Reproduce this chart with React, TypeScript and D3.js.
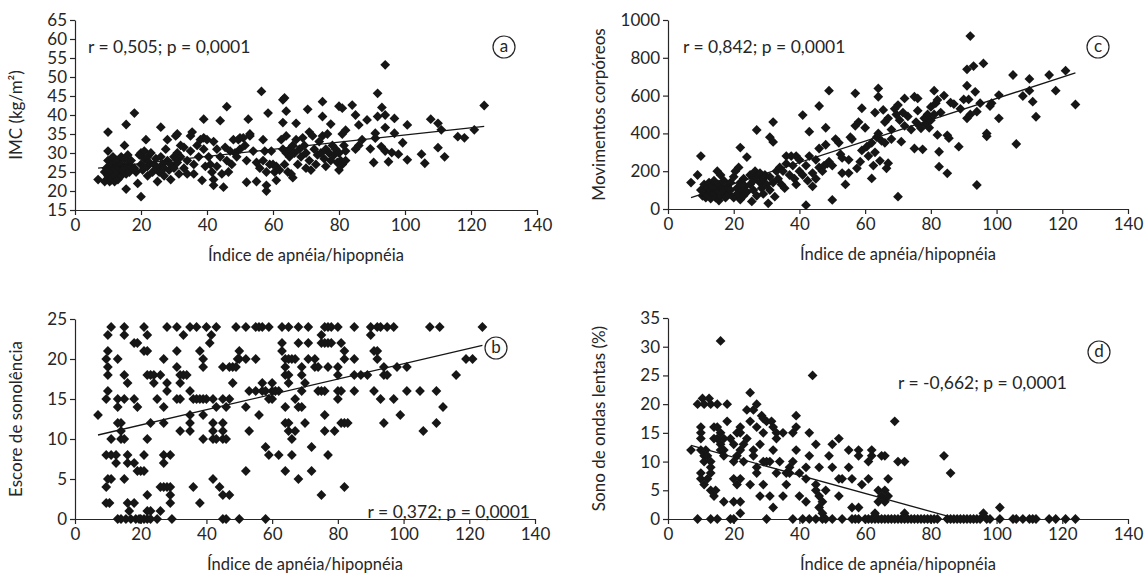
import React, { useRef, useEffect } from "react";
import * as d3 from "d3";

// Índice de apnéia/hipopnéia (x) vs. each outcome (y)
const imcPoints = [
  [7,23],[9,22.5],[9,25],[9.5,26],[10,30.5],[10,35.5],[10,28],[10,24],[10.5,22.5],[11,27],[11,25],[11,23],[11.5,29],[12,26],[12,24],[12,22.5],[12.5,27.5],[13,25],[13,23],[13,28],[13.5,26],[14,24],[14,29],[14,27],[14.5,25.5],[15,32],[15,28.5],[15,26],[15.5,37.5],[15.5,24.5],[15.5,20.5],[16,29.5],[16,27],[16.5,25],[17,26.5],[17,28],[18,40.5],[18,26],[18.5,25],[19,22],[19.5,29.5],[20,18.5],[20,30],[20,27],[20.5,25.5],[21,28.5],[21,30.5],[21.5,33.5],[22,24],[22,26.5],[22,29],[22.5,27.5],[23,30],[23.5,25],[24,27],[24.5,28.5],[25,26],[25,22.5],[25.5,25],[26,36.8],[26,29],[26.5,27],[27,24],[27,26],[27.5,31],[28,33.5],[28,28],[28.5,25.5],[29,27],[29,23],[30,29],[30,26],[30.5,34.5],[31,35],[31,30],[31,27.5],[31.5,24.5],[32,32],[32,29],[33,31.5],[33,26],[34,28],[34,24.5],[35,34.5],[35.5,35.5],[35,30.5],[36,27],[36,24.5],[37,32],[37.5,29],[38,33.5],[38.5,22.8],[39,38.9],[39,34],[39,31],[39.5,26.5],[40,33.5],[40.5,29],[41,27],[41.5,25],[42,33],[42,23],[42,21.5],[43,31],[43,26.5],[44,38.5],[44,29],[44.5,24.5],[45,21],[45.5,31.5],[46,42.2],[46,28],[46.5,25],[47,30.5],[47.5,27],[48,33.5],[48.5,30],[49,29],[49.5,33.5],[50,34],[50,31],[51,34],[51.5,32],[52,28],[52.5,38.9],[52,22.3],[53,34.5],[53,35],[54,30.5],[55,22.5],[55,27.5],[56,26],[56.5,46.2],[57,33.5],[57,28],[57.5,30.5],[58,25],[58,21.5],[58,20],[58.5,40.5],[59,27],[59.5,30.5],[60,27],[60.5,25],[61,22.8],[61,26.5],[62,25.5],[62.5,33.5],[63,44],[63,38],[63,31],[63.5,44.5],[63.5,27],[64,41],[64,34.5],[64,30],[64.5,25],[65,31],[65,29],[65.5,24.5],[66,23.5],[66,32],[66.5,30],[67,37.8],[67,33.5],[67.5,27],[68,31],[68.5,29],[69,34],[69.5,32],[70,30],[70,26],[70.5,41.5],[71,35.5],[71,28],[71.5,25.5],[72,34.5],[72.5,31],[73,27],[73.5,29.5],[74,33],[74.5,30],[75,43.5],[75,39.6],[75,34.5],[75.5,28.5],[76,31],[76,26.5],[76.5,35],[77,30],[77.5,37.6],[77.5,28],[78,32],[78.5,29.5],[79,31],[79.5,27.5],[80,42.3],[80,30],[80,25.5],[80.5,28],[81,41.8],[81,35],[81,27],[81.5,32],[82,36],[82,30.5],[82,28],[84,42.6],[85,40],[85,31],[86,37.4],[86,32],[87,33.5],[88.5,38.7],[89.5,31.1],[90.5,27.5],[91,35.2],[91,33.9],[91.7,45.7],[91.7,39.6],[92.8,31.7],[93,42],[94,53.2],[94,40],[94,36.7],[94,30.5],[95,27.7],[96,30.1],[96.8,39.1],[96.8,35.2],[98,29.7],[99.3,32.7],[100.7,37.4],[100.7,28.2],[105,29.7],[106,27.3],[107.8,38.9],[110,37.8],[110,31.4],[111,36.1],[112,29],[116,34.3],[118,34],[121,36.1],[124,42.5]
];

const movPoints = [
  [7,140],[9,180],[10,280],[10,100],[10.5,70],[11,130],[11,90],[11.5,60],[12,110],[12,75],[12.5,140],[13,95],[13,55],[13.5,120],[14,80],[14,150],[14.5,60],[15,200],[15,100],[15.5,130],[15.5,45],[16,180],[16,70],[16.5,110],[17,90],[17,150],[17.5,60],[18,120],[18.5,80],[19,140],[19,100],[20,170],[20,60],[20.5,200],[21,110],[21,80],[21.5,220],[22,325],[22,140],[22,50],[22.5,100],[23,160],[23,70],[23.5,120],[24,275],[24,90],[25,180],[25,130],[25.5,40],[26,150],[26,100],[26.5,200],[27,418],[27,170],[27,70],[28,140],[28,190],[28.5,110],[29,160],[29,80],[29.5,180],[30,130],[30.5,30],[31,380],[31,170],[31,100],[32,460],[32,355],[32,140],[32.5,65],[33,200],[33.5,160],[34,220],[34.5,130],[35,200],[35.5,110],[36,280],[36,240],[37,180],[37.5,280],[38,230],[38.5,160],[39,280],[39,130],[40,200],[40,260],[41,497],[41,180],[42,20],[42,230],[42.5,150],[43,409],[43,280],[44,120],[44,190],[45,260],[45,160],[46,545],[46,320],[46,220],[47,200],[47.5,230],[48,430],[48,340],[48.5,240],[49,626],[49,250],[50,48],[50,230],[51,370],[52,350],[52.5,290],[53,190],[53,270],[54,130],[55,190],[55,260],[55.5,380],[56,370],[57,612],[57,440],[57.5,215],[58,460],[58.5,250],[59,533],[59,310],[60,430],[60.5,330],[61,280],[62,162],[62,350],[62.5,230],[63,300],[63,510],[63.5,380],[64,638],[64,594],[64,400],[64.5,255],[65,360],[65.5,524],[66,460],[66,350],[66.5,215],[67,242],[67,480],[68,370],[68,420],[69,530],[69.5,500],[70,65],[70,550],[70.5,470],[71,356],[71.5,510],[72,585],[72,440],[73,490],[74,420],[75,594],[75,320],[75.5,460],[76,585],[76,520],[76.5,440],[77,427],[77.5,316],[78,480],[78.5,450],[79,500],[79.5,430],[80,540],[80,470],[81,626],[81,500],[81.5,560],[82,577],[82,392],[82.5,303],[82.5,224],[83,510],[84,600],[85,189],[85,390],[85.5,375],[86,563],[87,555],[88.5,330],[89,530],[90,580],[91,739],[91,652],[91,480],[91.5,580],[92,915],[92,500],[93,756],[93.5,620],[94,127],[94,515],[95,560],[96,770],[97,400],[97,385],[98,545],[98.5,560],[100.7,603],[100.7,480],[105,709],[106,344],[108,598],[110,688],[110,626],[111,568],[112,488],[116,709],[118,626],[121,732],[124,553]
];

const sonoPoints = [
  [7,13],[9.5,20],[9.5,15],[9.5,8],[9.5,4],[9.5,2],[10,23],[10,21],[10,19],[10,18],[10,16],[10,5],[10.5,2],[11,24],[11,10],[11,8],[11,5],[12.5,8],[12.5,7],[13,20],[13,15],[13,14],[13,12],[13,0],[14,12],[14,11],[14,10],[14,0],[15,24],[15,23],[15,18],[15,15],[15,10],[15,5],[15.5,0],[16,17],[16,8],[16,7],[16,2],[16.5,1],[17,0],[18,22],[18,15],[18,7],[18,2],[18.5,0],[19,22],[19,14],[19,6],[19.5,0],[20,0],[20,6],[21,24],[21,21],[21,8],[21,6],[21,0],[22,23],[22,21],[22,18],[22,10],[22,3],[22,1],[22,0],[23,12],[23,18],[23,1],[23,0],[24,17],[24,18],[25,15],[25,0],[26,18],[26,4],[26,1],[27,20],[27,14],[27,12],[27,8],[27,7],[27,4],[28,24],[28,17],[28,16],[28,4],[29,8],[29,4],[29,3],[29,2],[29.5,0],[31,24],[31,21],[31,19],[31,15],[32,18],[32,17],[32,15],[32,11],[33,23],[33,18],[34,18],[35,24],[35,13],[35,16],[35,12],[35,11],[36,4],[36,15],[37,24],[37,15],[38,21],[38,2],[38,15],[39,20],[39,19],[39,15],[39,13],[39,10],[40,24],[40,15],[41,22],[41.5,23],[42,15],[42,12],[42,11],[42,10],[42,5],[43,24],[43,14],[43,10],[44,4],[45,19],[45,15],[45,12],[45,11],[45,10],[45,3],[45,0],[46,14],[46,10],[46,0],[47,19],[47,15],[47,3],[48,17],[48,19],[49,24],[49,19],[49.5,20],[50,21],[50,20],[50,0],[52,24],[52,20],[52,14],[52,6],[53,16],[53,11],[55,24],[55,20],[55,16],[56,24],[56,13],[57,24],[57,17],[57,16],[58,9],[58,0],[58,16],[59,24],[59,15],[59,8],[60,17],[60,16],[60,15],[61,16],[62,8],[62,16],[63,22],[63,24],[63,21],[64,20],[64,19],[64,18],[64,12],[64,14],[64,6],[65,24],[65,20],[65,18],[65,17],[65,11],[65,12],[66,20],[66,10],[66,8],[67,20],[67,11],[67,15],[68,24],[68,22],[68,14],[68,5],[69,16],[69,14],[69,19],[69,18],[70,17],[70,12],[71,24],[71,22],[71,20],[72,9],[72,6],[73,20],[73,19],[74,16],[74,19],[75,3],[75,16],[75,23],[75,22],[76,24],[76,22],[76,16],[76,13],[76,11],[77,24],[77,22],[77,8],[77,19],[78,24],[78,22],[79,11],[80,24],[80,19],[80,18],[80,16],[80,15],[81,22],[81,12],[81,16],[82,21],[82,20],[82,12],[82,4],[83,12],[85,24],[85,20],[85,18],[85,16],[87,18],[89,18],[90,24],[90,23],[91,21],[91,16],[92,24],[92,21],[92,20],[93,24],[93,15],[94,19],[94,18],[94,12],[95,24],[95,18],[97,24],[97,15],[98,19],[99,13],[101,19],[101,16],[105,16],[106,11],[108,24],[110,16],[110,12],[111,24],[112,14],[116,18],[119,20],[121,20],[124,24]
];

const ondasPoints = [
  [7,12],[9,20],[9,0],[10,16],[10,15],[10,14],[10,12],[10,8],[10,7],[10.5,21],[11,20],[11,11],[11,10],[11,6],[11.5,12],[12,7],[12,11],[12.5,21],[13,20],[13,10],[13,9],[13,8],[13,5],[13,0],[14,16],[14,14],[14,4],[14.5,5],[15,20],[15,16],[15,14],[15,0],[16,31],[16,15],[16,13],[16,12],[17,14],[17,12],[17,11],[17,3],[18,20],[18,17],[19,14],[19,0],[20,13],[20,10],[20,7],[20,3],[20,0],[21,11],[21,6],[21,15],[22,16],[22,15],[22,12],[22,7],[22,3],[22,1],[23,13],[23,10],[24,14],[24,19],[25,22],[25,17],[25,6],[26,19],[26,12],[26,11],[27,20],[27,16],[27,9],[27,8],[28,13],[28,4],[28.5,18],[29,17.5],[29,15],[29,10],[29,6],[30,17],[30,10],[30,0],[31,10],[31,4],[31.5,17],[32,16],[32,12],[32,2],[33,15],[33,14],[33,8],[34,10],[35,15],[35,4],[36,8],[36,6],[37,9],[37,8],[38,10],[38,15],[38,0],[39,18],[39,16],[39,12],[40,8],[40,4],[41,0],[42,9],[42,7],[42,3],[43,15],[43,11],[43,0],[44,25],[45,13],[45,6],[45,5],[45,0],[46,9],[46,4],[46,2],[47,3],[47,1],[47,0],[48,5],[48,0],[49,11],[50,13],[50,9],[50,0],[52,14],[52,7],[52,4],[53,7],[53,0],[55,12],[55,9],[56,2],[56,7],[56,0],[57,0],[58,12],[58,11],[58,2],[58,0],[59,6],[60,0],[61,7],[61,10],[61,0],[62,11],[62,12],[62,0],[63,1],[63,0],[64,5],[64,3],[64,0],[65,11],[65,4],[65,0],[66,11],[66,5],[66,3],[66,0],[67,7],[67,4],[67,0],[68,0],[69,17],[69,0],[70,10],[70,0],[71,0],[72,10],[72,1],[72,0],[73,0],[74,0],[75,0],[76,0],[77,0],[78,0],[79,0],[80,0],[81,0],[82,0],[84,11],[85,0],[86,8],[86,0],[87,0],[88,0],[89,0],[90,0],[91,0],[92,0],[93,0],[94,0],[95,0],[96,1],[97,0],[98,0],[101,2],[101,0],[105,0],[106,0],[108,0],[110,0],[111,0],[112,0],[116,0],[118,0],[121,0],[124,0]
];

// fitted regression lines (endpoints)
const imcFit = [[7,26],[124,37]];
const movFit = [[7,60],[124,720]];
const sonoFit = [[7,10.5],[124,21.7]];
const ondasFit = [[7,12.8],[87,0.2]];

const xTicks = [0, 20, 40, 60, 80, 100, 120, 140];
const imcTicks = [15, 20, 25, 30, 35, 40, 45, 50, 55, 60, 65];
const movTicks = [0, 200, 400, 600, 800, 1000];
const sonoTicks = [0, 5, 10, 15, 20, 25];
const ondasTicks = [0, 5, 10, 15, 20, 25, 30, 35];

const xTitle = "Índice de apnéia/hipopnéia";
const FONT = "Lato, 'Open Sans', sans-serif";
const INK = "#262626";

const panels = [
  { key: "a", pts: imcPoints, fit: imcFit, yTicks: imcTicks, yTitle: "IMC (kg/m²)", stat: "r = 0,505; p = 0,0001",
    box: [75, 537, 20, 210], statPos: [88, 53, "start"], letterPos: [504, 47], titleX: 18 },
  { key: "c", pts: movPoints, fit: movFit, yTicks: movTicks, yTitle: "Movimentos corpóreos", stat: "r = 0,842; p = 0,0001",
    box: [668, 1128, 20, 209], statPos: [683, 53, "start"], letterPos: [1098, 47], titleX: 601 },
  { key: "b", pts: sonoPoints, fit: sonoFit, yTicks: sonoTicks, yTitle: "Escore de sonolência", stat: "r = 0,372; p = 0,0001",
    box: [75, 535, 319, 519], statPos: [530, 518, "end"], letterPos: [496, 348], titleX: 18 },
  { key: "d", pts: ondasPoints, fit: ondasFit, yTicks: ondasTicks, yTitle: "Sono de ondas lentas (%)", stat: "r = -0,662; p = 0,0001",
    box: [668, 1128, 318, 519], statPos: [898, 389, "start"], letterPos: [1099, 352], titleX: 601 },
];

export default function App() {
  const svgRef = useRef(null);

  useEffect(() => {
    const svg = d3.select(svgRef.current);
    svg.selectAll("*").remove();

    const diamond = d3.symbol().type(d3.symbolSquare).size(48)();

    panels.forEach((p) => {
      const [x0, x1, y0, y1] = p.box;
      const yMin = p.yTicks[0];
      const yMax = p.yTicks[p.yTicks.length - 1];
      const x = d3.scaleLinear().domain([0, 140]).range([x0, x1]);
      const y = d3.scaleLinear().domain([yMin, yMax]).range([y1, y0]);
      const g = svg.append("g");

      // axes
      const xAxis = d3.axisBottom(x).tickValues(xTicks).tickFormat(d3.format("d"))
        .tickSizeInner(5).tickSizeOuter(0).tickPadding(4);
      const yAxis = d3.axisLeft(y).tickValues(p.yTicks).tickFormat(d3.format("d"))
        .tickSizeInner(5).tickSizeOuter(0).tickPadding(3);
      const gx = g.append("g").attr("transform", `translate(0,${y1})`).call(xAxis);
      const gy = g.append("g").attr("transform", `translate(${x0},0)`).call(yAxis);
      [gx, gy].forEach((ax) => {
        ax.selectAll("path,line").attr("stroke", INK).attr("stroke-width", 1.2);
        ax.selectAll("text").attr("font-family", FONT).attr("font-size", 17).attr("fill", INK);
      });

      // points
      g.append("g")
        .selectAll("path")
        .data(p.pts)
        .join("path")
        .attr("d", diamond)
        .attr("transform", (d) => `translate(${x(d[0])},${y(d[1])}) rotate(45)`)
        .attr("fill", "#161616");

      // regression line
      g.append("path")
        .attr("d", d3.line().x((d) => x(d[0])).y((d) => y(d[1]))(p.fit))
        .attr("fill", "none")
        .attr("stroke", "#161616")
        .attr("stroke-width", 1.3);

      // texts
      g.append("text")
        .attr("x", (x0 + x1) / 2)
        .attr("y", y1 + 51)
        .attr("text-anchor", "middle")
        .attr("font-family", FONT)
        .attr("font-size", 16.5)
        .attr("fill", INK)
        .text(xTitle);
      g.append("text")
        .attr("transform", `translate(${p.titleX},${(y0 + y1) / 2}) rotate(-90)`)
        .attr("text-anchor", "middle")
        .attr("dominant-baseline", "middle")
        .attr("font-family", FONT)
        .attr("font-size", 17)
        .attr("fill", INK)
        .text(p.yTitle);
      g.append("text")
        .attr("x", p.statPos[0])
        .attr("y", p.statPos[1])
        .attr("text-anchor", p.statPos[2])
        .attr("font-family", FONT)
        .attr("font-size", 17.5)
        .attr("fill", INK)
        .text(p.stat);
      g.append("circle")
        .attr("cx", p.letterPos[0])
        .attr("cy", p.letterPos[1])
        .attr("r", 11)
        .attr("fill", "#fff")
        .attr("stroke", INK)
        .attr("stroke-width", 1.2);
      g.append("text")
        .attr("x", p.letterPos[0])
        .attr("y", p.letterPos[1] + 5)
        .attr("text-anchor", "middle")
        .attr("font-family", FONT)
        .attr("font-size", 17)
        .attr("fill", INK)
        .text(p.key);
    });
  }, []);

  return (
    <div>
      <svg ref={svgRef} width={1148} height={577} style={{ position: "absolute", left: 0, top: 0, background: "#fff" }}></svg>
    </div>
  );
}
